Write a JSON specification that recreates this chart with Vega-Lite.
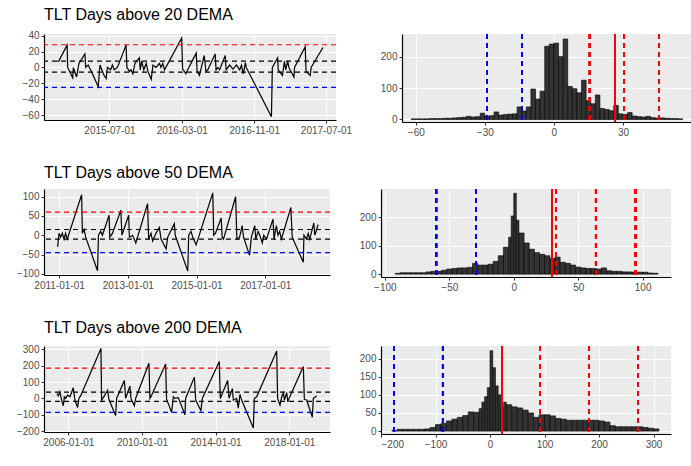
{
  "$schema": "https://vega.github.io/schema/vega-lite/v6.json",
  "background": "white",
  "padding": {"left": 16, "top": 6, "right": 4, "bottom": 2},
  "config": {
    "font": "Liberation Sans",
    "view": {"fill": "#ebebeb", "stroke": null},
    "axis": {"domainColor": "black", "domainWidth": 1.2, "tickColor": "#333", "labelColor": "#4d4d4d", "labelFontSize": 10, "gridColor": "white", "gridWidth": 1, "title": null, "tickSize": 3, "labelOverlap": false},
    "title": {"anchor": "start", "frame": "group", "fontSize": 16, "fontWeight": "normal", "color": "black", "offset": 8}
  },
  "datasets": {
    "d20": [
      {"d":"2015-01-06","v":8},{"d":"2015-01-11","v":8},{"d":"2015-02-08","v":28},{"d":"2015-02-10","v":0},{"d":"2015-02-27","v":-13},{"d":"2015-03-01","v":0},{"d":"2015-03-12","v":-12},{"d":"2015-03-20","v":5},{"d":"2015-04-09","v":17},{"d":"2015-04-12","v":0},{"d":"2015-04-20","v":3},{"d":"2015-05-01","v":-5},{"d":"2015-05-24","v":-24},{"d":"2015-05-30","v":3},{"d":"2015-06-13","v":-10},{"d":"2015-06-20","v":-14},{"d":"2015-06-24","v":0},{"d":"2015-07-05","v":-3},{"d":"2015-07-11","v":3},{"d":"2015-07-17","v":-3},{"d":"2015-07-28","v":0},{"d":"2015-08-26","v":28},{"d":"2015-08-29","v":0},{"d":"2015-09-07","v":-5},{"d":"2015-09-12","v":-3},{"d":"2015-09-18","v":-8},{"d":"2015-09-25","v":5},{"d":"2015-10-10","v":12},{"d":"2015-10-13","v":-3},{"d":"2015-10-18","v":8},{"d":"2015-10-25","v":-3},{"d":"2015-11-02","v":5},{"d":"2015-11-08","v":-5},{"d":"2015-11-19","v":-15},{"d":"2015-11-25","v":3},{"d":"2015-12-05","v":0},{"d":"2015-12-17","v":5},{"d":"2015-12-22","v":0},{"d":"2015-12-28","v":5},{"d":"2016-01-03","v":-3},{"d":"2016-03-01","v":37},{"d":"2016-03-04","v":-2},{"d":"2016-03-10","v":-5},{"d":"2016-03-15","v":-8},{"d":"2016-03-21","v":-3},{"d":"2016-04-19","v":18},{"d":"2016-04-22","v":-5},{"d":"2016-04-30","v":-10},{"d":"2016-05-16","v":15},{"d":"2016-05-22","v":-5},{"d":"2016-05-28","v":-3},{"d":"2016-06-22","v":17},{"d":"2016-06-25","v":-3},{"d":"2016-07-01","v":0},{"d":"2016-07-07","v":-3},{"d":"2016-07-26","v":15},{"d":"2016-07-29","v":-3},{"d":"2016-08-10","v":3},{"d":"2016-08-21","v":-2},{"d":"2016-09-02","v":3},{"d":"2016-09-13","v":-3},{"d":"2016-09-19","v":3},{"d":"2016-09-25","v":-8},{"d":"2016-10-02","v":6},{"d":"2016-10-05","v":0},{"d":"2016-12-29","v":-62},{"d":"2017-01-01","v":0},{"d":"2017-01-19","v":12},{"d":"2017-01-21","v":-3},{"d":"2017-02-04","v":-10},{"d":"2017-02-11","v":8},{"d":"2017-02-15","v":-3},{"d":"2017-02-22","v":8},{"d":"2017-02-26","v":0},{"d":"2017-03-15","v":-12},{"d":"2017-03-17","v":0},{"d":"2017-04-22","v":26},{"d":"2017-04-25","v":-5},{"d":"2017-05-09","v":-10},{"d":"2017-05-12","v":0},{"d":"2017-06-21","v":25}
    ],
    "d50": [
      {"d":"2010-12-17","v":-30},{"d":"2011-01-01","v":5},{"d":"2011-01-18","v":-5},{"d":"2011-02-05","v":5},{"d":"2011-02-23","v":-10},{"d":"2011-03-11","v":5},{"d":"2011-03-29","v":-10},{"d":"2011-08-29","v":105},{"d":"2011-09-06","v":5},{"d":"2011-09-24","v":15},{"d":"2011-10-11","v":-5},{"d":"2012-02-14","v":-92},{"d":"2012-02-24","v":0},{"d":"2012-03-19","v":10},{"d":"2012-04-06","v":0},{"d":"2012-06-16","v":52},{"d":"2012-06-23","v":-5},{"d":"2012-07-21","v":5},{"d":"2012-10-19","v":65},{"d":"2012-10-30","v":0},{"d":"2013-01-10","v":52},{"d":"2013-01-17","v":-5},{"d":"2013-02-21","v":0},{"d":"2013-03-27","v":-20},{"d":"2013-07-30","v":82},{"d":"2013-08-10","v":-10},{"d":"2013-09-04","v":5},{"d":"2013-09-22","v":-15},{"d":"2013-10-27","v":5},{"d":"2013-12-02","v":20},{"d":"2013-12-20","v":-10},{"d":"2014-02-12","v":-35},{"d":"2014-03-01","v":-5},{"d":"2014-05-10","v":30},{"d":"2014-05-20","v":0},{"d":"2014-09-30","v":-93},{"d":"2014-10-10","v":0},{"d":"2014-11-04","v":10},{"d":"2014-11-22","v":-5},{"d":"2014-12-28","v":-25},{"d":"2015-06-23","v":110},{"d":"2015-07-03","v":0},{"d":"2015-07-21","v":5},{"d":"2015-09-20","v":45},{"d":"2015-10-01","v":-5},{"d":"2015-10-15","v":-10},{"d":"2016-02-21","v":100},{"d":"2016-03-05","v":-10},{"d":"2016-04-03","v":-5},{"d":"2016-05-01","v":25},{"d":"2016-05-15","v":-5},{"d":"2016-07-18","v":-52},{"d":"2016-08-06","v":-5},{"d":"2016-09-11","v":25},{"d":"2016-09-22","v":-10},{"d":"2016-10-16","v":10},{"d":"2016-11-03","v":0},{"d":"2016-12-01","v":-20},{"d":"2016-12-16","v":0},{"d":"2017-01-14","v":-10},{"d":"2017-03-24","v":42},{"d":"2017-04-04","v":-10},{"d":"2017-04-29","v":25},{"d":"2017-05-16","v":0},{"d":"2017-06-03","v":10},{"d":"2017-06-21","v":-10},{"d":"2017-09-30","v":72},{"d":"2017-10-14","v":-5},{"d":"2018-02-09","v":-70},{"d":"2018-02-16","v":0},{"d":"2018-03-15","v":-10},{"d":"2018-04-02","v":5},{"d":"2018-04-19","v":-10},{"d":"2018-06-01","v":32},{"d":"2018-06-12","v":0},{"d":"2018-07-17","v":28}
    ],
    "d200": [
      {"d":"2005-05-19","v":30},{"d":"2005-06-16","v":15},{"d":"2005-07-18","v":40},{"d":"2005-08-20","v":-10},{"d":"2005-09-23","v":-45},{"d":"2005-10-13","v":10},{"d":"2005-11-08","v":0},{"d":"2005-12-18","v":20},{"d":"2006-02-03","v":10},{"d":"2006-04-08","v":65},{"d":"2006-05-11","v":-10},{"d":"2006-07-04","v":-55},{"d":"2006-07-30","v":0},{"d":"2006-09-08","v":20},{"d":"2007-10-10","v":305},{"d":"2007-10-23","v":-10},{"d":"2007-11-26","v":5},{"d":"2008-02-20","v":50},{"d":"2008-03-16","v":-5},{"d":"2008-07-27","v":-105},{"d":"2008-08-16","v":0},{"d":"2009-01-16","v":110},{"d":"2009-02-12","v":0},{"d":"2009-05-07","v":75},{"d":"2009-05-27","v":0},{"d":"2009-08-02","v":-45},{"d":"2009-08-28","v":0},{"d":"2010-05-19","v":215},{"d":"2010-06-08","v":0},{"d":"2010-06-28","v":10},{"d":"2011-04-15","v":210},{"d":"2011-05-04","v":-5},{"d":"2011-08-12","v":-85},{"d":"2011-09-15","v":10},{"d":"2011-10-17","v":0},{"d":"2011-12-23","v":5},{"d":"2012-05-03","v":-100},{"d":"2012-05-16","v":0},{"d":"2012-11-06","v":130},{"d":"2012-12-02","v":-10},{"d":"2013-03-16","v":-75},{"d":"2013-04-12","v":0},{"d":"2014-03-15","v":225},{"d":"2014-04-04","v":0},{"d":"2014-08-28","v":110},{"d":"2014-09-24","v":0},{"d":"2014-11-30","v":60},{"d":"2014-12-19","v":-10},{"d":"2015-02-24","v":0},{"d":"2015-03-27","v":-60},{"d":"2015-04-30","v":25},{"d":"2015-06-02","v":-10},{"d":"2016-01-20","v":-180},{"d":"2016-02-09","v":0},{"d":"2016-03-26","v":10},{"d":"2017-04-27","v":290},{"d":"2017-05-16","v":0},{"d":"2017-07-02","v":-40},{"d":"2017-08-05","v":10},{"d":"2017-09-07","v":35},{"d":"2017-09-27","v":-10},{"d":"2017-11-12","v":35},{"d":"2017-12-02","v":-20},{"d":"2017-12-28","v":0},{"d":"2018-10-08","v":195},{"d":"2018-10-28","v":-5},{"d":"2018-12-13","v":-10},{"d":"2019-04-04","v":-115},{"d":"2019-04-24","v":0},{"d":"2019-06-30","v":15}
    ],
    "r20": [{"v":28.5,"k":"hi"},{"v":8,"k":"sd"},{"v":-6,"k":"sd"},{"v":-25,"k":"lo"}],
    "r50": [{"v":60,"k":"hi"},{"v":15,"k":"sd"},{"v":-10,"k":"sd"},{"v":-45,"k":"lo"}],
    "r200": [{"v":185,"k":"hi"},{"v":38,"k":"sd"},{"v":-18,"k":"sd"},{"v":-85,"k":"lo"}],
    "h20": [
      {"lo":-62,"hi":-60,"n":2},{"lo":-60,"hi":-58,"n":2},{"lo":-58,"hi":-56,"n":2},{"lo":-56,"hi":-54,"n":2},{"lo":-54,"hi":-52,"n":3},{"lo":-52,"hi":-50,"n":3},{"lo":-50,"hi":-48,"n":3},{"lo":-48,"hi":-46,"n":4},{"lo":-46,"hi":-44,"n":4},{"lo":-44,"hi":-42,"n":5},{"lo":-42,"hi":-40,"n":6},{"lo":-40,"hi":-38,"n":7},{"lo":-38,"hi":-36,"n":10},{"lo":-36,"hi":-34,"n":8},{"lo":-34,"hi":-32,"n":9},{"lo":-32,"hi":-30,"n":20},{"lo":-30,"hi":-28,"n":11},{"lo":-28,"hi":-26,"n":12},{"lo":-26,"hi":-24,"n":24},{"lo":-24,"hi":-22,"n":14},{"lo":-22,"hi":-20,"n":16},{"lo":-20,"hi":-18,"n":17},{"lo":-18,"hi":-16,"n":18},{"lo":-16,"hi":-14,"n":40},{"lo":-14,"hi":-12,"n":27},{"lo":-12,"hi":-10,"n":40},{"lo":-10,"hi":-8,"n":97},{"lo":-8,"hi":-6,"n":65},{"lo":-6,"hi":-4,"n":90},{"lo":-4,"hi":-2,"n":233},{"lo":-2,"hi":0,"n":240},{"lo":0,"hi":2,"n":243},{"lo":2,"hi":4,"n":200},{"lo":4,"hi":6,"n":256},{"lo":6,"hi":8,"n":105},{"lo":8,"hi":10,"n":98},{"lo":10,"hi":12,"n":85},{"lo":12,"hi":14,"n":125},{"lo":14,"hi":16,"n":60},{"lo":16,"hi":18,"n":50},{"lo":18,"hi":20,"n":78},{"lo":20,"hi":22,"n":35},{"lo":22,"hi":24,"n":32},{"lo":24,"hi":26,"n":28},{"lo":26,"hi":28,"n":45},{"lo":28,"hi":30,"n":18},{"lo":30,"hi":32,"n":16},{"lo":32,"hi":34,"n":22},{"lo":34,"hi":36,"n":11},{"lo":36,"hi":38,"n":9},{"lo":38,"hi":40,"n":8},{"lo":40,"hi":42,"n":10},{"lo":42,"hi":44,"n":6},{"lo":44,"hi":46,"n":5},{"lo":46,"hi":48,"n":5},{"lo":48,"hi":50,"n":4},{"lo":50,"hi":52,"n":3},{"lo":52,"hi":54,"n":3},{"lo":54,"hi":56,"n":2}
    ],
    "h50": [
      {"lo":-92,"hi":-88,"n":3},{"lo":-88,"hi":-84,"n":5},{"lo":-84,"hi":-80,"n":5},{"lo":-80,"hi":-76,"n":5},{"lo":-76,"hi":-72,"n":5},{"lo":-72,"hi":-68,"n":5},{"lo":-68,"hi":-64,"n":8},{"lo":-64,"hi":-60,"n":10},{"lo":-60,"hi":-56,"n":10},{"lo":-56,"hi":-52,"n":14},{"lo":-52,"hi":-48,"n":18},{"lo":-48,"hi":-44,"n":20},{"lo":-44,"hi":-40,"n":22},{"lo":-40,"hi":-36,"n":22},{"lo":-36,"hi":-32,"n":24},{"lo":-32,"hi":-28,"n":38},{"lo":-28,"hi":-24,"n":32},{"lo":-24,"hi":-20,"n":32},{"lo":-20,"hi":-16,"n":35},{"lo":-16,"hi":-12,"n":45},{"lo":-12,"hi":-8,"n":65},{"lo":-8,"hi":-4,"n":95},{"lo":-4,"hi":-2,"n":130},{"lo":-2,"hi":0,"n":205},{"lo":0,"hi":2,"n":285},{"lo":2,"hi":4,"n":190},{"lo":4,"hi":8,"n":145},{"lo":8,"hi":12,"n":110},{"lo":12,"hi":16,"n":88},{"lo":16,"hi":20,"n":76},{"lo":20,"hi":24,"n":70},{"lo":24,"hi":28,"n":65},{"lo":28,"hi":32,"n":55},{"lo":32,"hi":36,"n":60},{"lo":36,"hi":40,"n":42},{"lo":40,"hi":44,"n":38},{"lo":44,"hi":48,"n":32},{"lo":48,"hi":52,"n":25},{"lo":52,"hi":56,"n":22},{"lo":56,"hi":60,"n":20},{"lo":60,"hi":64,"n":20},{"lo":64,"hi":68,"n":18},{"lo":68,"hi":72,"n":22},{"lo":72,"hi":76,"n":12},{"lo":76,"hi":80,"n":10},{"lo":80,"hi":84,"n":10},{"lo":84,"hi":88,"n":8},{"lo":88,"hi":92,"n":8},{"lo":92,"hi":96,"n":7},{"lo":96,"hi":100,"n":7},{"lo":100,"hi":104,"n":7},{"lo":104,"hi":108,"n":4},{"lo":108,"hi":112,"n":3}
    ],
    "h200": [
      {"lo":-180,"hi":-170,"n":2},{"lo":-170,"hi":-160,"n":5},{"lo":-160,"hi":-150,"n":5},{"lo":-150,"hi":-140,"n":5},{"lo":-140,"hi":-130,"n":5},{"lo":-130,"hi":-120,"n":5},{"lo":-120,"hi":-110,"n":6},{"lo":-110,"hi":-100,"n":10},{"lo":-100,"hi":-90,"n":18},{"lo":-90,"hi":-80,"n":21},{"lo":-80,"hi":-70,"n":28},{"lo":-70,"hi":-60,"n":33},{"lo":-60,"hi":-50,"n":38},{"lo":-50,"hi":-40,"n":43},{"lo":-40,"hi":-30,"n":53},{"lo":-30,"hi":-20,"n":52},{"lo":-20,"hi":-15,"n":62},{"lo":-15,"hi":-10,"n":80},{"lo":-10,"hi":-5,"n":95},{"lo":-5,"hi":0,"n":120},{"lo":0,"hi":5,"n":222},{"lo":5,"hi":10,"n":175},{"lo":10,"hi":15,"n":125},{"lo":15,"hi":20,"n":100},{"lo":20,"hi":25,"n":65},{"lo":25,"hi":30,"n":80},{"lo":30,"hi":40,"n":73},{"lo":40,"hi":50,"n":67},{"lo":50,"hi":60,"n":64},{"lo":60,"hi":70,"n":58},{"lo":70,"hi":80,"n":50},{"lo":80,"hi":90,"n":38},{"lo":90,"hi":100,"n":45},{"lo":100,"hi":110,"n":45},{"lo":110,"hi":120,"n":42},{"lo":120,"hi":130,"n":35},{"lo":130,"hi":140,"n":33},{"lo":140,"hi":150,"n":30},{"lo":150,"hi":160,"n":30},{"lo":160,"hi":170,"n":30},{"lo":170,"hi":180,"n":30},{"lo":180,"hi":190,"n":30},{"lo":190,"hi":200,"n":30},{"lo":200,"hi":210,"n":28},{"lo":210,"hi":220,"n":25},{"lo":220,"hi":230,"n":15},{"lo":230,"hi":240,"n":12},{"lo":240,"hi":250,"n":12},{"lo":250,"hi":260,"n":12},{"lo":260,"hi":270,"n":12},{"lo":270,"hi":280,"n":12},{"lo":280,"hi":290,"n":10},{"lo":290,"hi":300,"n":8},{"lo":300,"hi":310,"n":6}
    ]
  },
  "spacing": 28,
  "vconcat": [
    {
      "spacing": 28,
      "hconcat": [
        {
          "title": "TLT Days above 20 DEMA",
          "width": 292, "height": 86,
          "layer": [
            {
              "data": {"name": "d20"},
              "mark": {"type": "line", "color": "black", "strokeWidth": 1.2},
              "encoding": {
                "x": {"field": "d", "type": "temporal", "scale": {"domain": ["2014-11-22", "2017-08-04"]}, "axis": {"format": "%Y-%m-%d", "values": ["2015-07-01", "2016-03-01", "2016-11-01", "2017-07-01"]}},
                "y": {"field": "v", "type": "quantitative", "scale": {"domain": [-66, 42], "nice": false}, "axis": {"values": [-60, -40, -20, 0, 20, 40], "labelOverlap": false}}
              }
            },
            {
              "data": {"name": "r20"},
              "mark": {"type": "rule", "strokeDash": [5, 4], "strokeWidth": 1.2},
              "encoding": {
                "y": {"field": "v", "type": "quantitative", "axis": {"values": [-60, -40, -20, 0, 20, 40], "labelOverlap": false}},
                "color": {"field": "k", "type": "nominal", "scale": {"domain": ["hi", "sd", "lo"], "range": ["red", "black", "blue"]}, "legend": null}
              }
            },
            {"mark": {"type": "rule", "color": "black", "strokeWidth": 1.2}, "encoding": {"y": {"datum": 0, "axis": {"values": [-60, -40, -20, 0, 20, 40], "labelOverlap": false}}}}
          ]
        },
        {
          "width": 290, "height": 88,
          "data": {"name": "h20"},
          "layer": [
            {
              "mark": {"type": "bar", "color": "#333333", "stroke": "black", "strokeWidth": 0.6},
              "encoding": {
                "x": {"field": "lo", "type": "quantitative", "scale": {"domain": [-66, 60], "nice": false}, "axis": {"values": [-60, -30, 0, 30]}},
                "x2": {"field": "hi"},
                "y": {"field": "n", "type": "quantitative", "scale": {"domain": [-8, 272], "nice": false}, "axis": {"values": [0, 100, 200]}},
                "y2": {"datum": 0}
              }
            },
            {"mark": {"type": "rule", "color": "blue", "strokeDash": [5, 4], "strokeWidth": 1.2}, "encoding": {"x": {"datum": -29}}},
            {"mark": {"type": "rule", "color": "blue", "strokeDash": [5, 4], "strokeWidth": 1.2}, "encoding": {"x": {"datum": -14}}},
            {"mark": {"type": "rule", "color": "red", "strokeDash": [5, 4], "strokeWidth": 1.2}, "encoding": {"x": {"datum": 15.5}}},
            {"mark": {"type": "rule", "color": "red", "strokeWidth": 1.4}, "encoding": {"x": {"datum": 26.5}}},
            {"mark": {"type": "rule", "color": "red", "strokeDash": [5, 4], "strokeWidth": 1.2}, "encoding": {"x": {"datum": 30.5}}},
            {"mark": {"type": "rule", "color": "red", "strokeDash": [5, 4], "strokeWidth": 1.2}, "encoding": {"x": {"datum": 45.5}}}
          ]
        }
      ]
    },
    {
      "spacing": 28,
      "hconcat": [
        {
          "title": "TLT Days above 50 DEMA",
          "width": 286, "height": 86,
          "layer": [
            {
              "data": {"name": "d50"},
              "mark": {"type": "line", "color": "black", "strokeWidth": 1.2},
              "encoding": {
                "x": {"field": "d", "type": "temporal", "scale": {"domain": ["2010-07-25", "2018-11-20"]}, "axis": {"format": "%Y-%m-%d", "values": ["2011-01-01", "2013-01-01", "2015-01-01", "2017-01-01"]}},
                "y": {"field": "v", "type": "quantitative", "scale": {"domain": [-103, 120], "nice": false}, "axis": {"values": [-100, -50, 0, 50, 100], "labelOverlap": false}}
              }
            },
            {
              "data": {"name": "r50"},
              "mark": {"type": "rule", "strokeDash": [5, 4], "strokeWidth": 1.2},
              "encoding": {
                "y": {"field": "v", "type": "quantitative", "axis": {"values": [-100, -50, 0, 50, 100], "labelOverlap": false}},
                "color": {"field": "k", "type": "nominal", "scale": {"domain": ["hi", "sd", "lo"], "range": ["red", "black", "blue"]}, "legend": null}
              }
            },
            {"mark": {"type": "rule", "color": "black", "strokeWidth": 1.2}, "encoding": {"y": {"datum": 0, "axis": {"values": [-100, -50, 0, 50, 100], "labelOverlap": false}}}}
          ]
        },
        {
          "width": 290, "height": 88,
          "data": {"name": "h50"},
          "layer": [
            {
              "mark": {"type": "bar", "color": "#333333", "stroke": "black", "strokeWidth": 0.6},
              "encoding": {
                "x": {"field": "lo", "type": "quantitative", "scale": {"domain": [-103, 122], "nice": false}, "axis": {"values": [-100, -50, 0, 50, 100]}},
                "x2": {"field": "hi"},
                "y": {"field": "n", "type": "quantitative", "scale": {"domain": [-10, 300], "nice": false}, "axis": {"values": [0, 100, 200]}},
                "y2": {"datum": 0}
              }
            },
            {"mark": {"type": "rule", "color": "blue", "strokeDash": [5, 4], "strokeWidth": 1.2}, "encoding": {"x": {"datum": -60}}},
            {"mark": {"type": "rule", "color": "blue", "strokeDash": [5, 4], "strokeWidth": 1.2}, "encoding": {"x": {"datum": -29}}},
            {"mark": {"type": "rule", "color": "red", "strokeWidth": 1.4}, "encoding": {"x": {"datum": 29.5}}},
            {"mark": {"type": "rule", "color": "red", "strokeDash": [5, 4], "strokeWidth": 1.2}, "encoding": {"x": {"datum": 32.5}}},
            {"mark": {"type": "rule", "color": "red", "strokeDash": [5, 4], "strokeWidth": 1.2}, "encoding": {"x": {"datum": 63.5}}},
            {"mark": {"type": "rule", "color": "red", "strokeDash": [5, 4], "strokeWidth": 1.2}, "encoding": {"x": {"datum": 94.5}}}
          ]
        }
      ]
    },
    {
      "spacing": 28,
      "hconcat": [
        {
          "title": "TLT Days above 200 DEMA",
          "width": 286, "height": 86,
          "layer": [
            {
              "data": {"name": "d200"},
              "mark": {"type": "line", "color": "black", "strokeWidth": 1.2},
              "encoding": {
                "x": {"field": "d", "type": "temporal", "scale": {"domain": ["2004-09-05", "2020-03-20"]}, "axis": {"format": "%Y-%m-%d", "values": ["2006-01-01", "2010-01-01", "2014-01-01", "2018-01-01"]}},
                "y": {"field": "v", "type": "quantitative", "scale": {"domain": [-205, 320], "nice": false}, "axis": {"values": [-200, -100, 0, 100, 200, 300], "labelOverlap": false}}
              }
            },
            {
              "data": {"name": "r200"},
              "mark": {"type": "rule", "strokeDash": [5, 4], "strokeWidth": 1.2},
              "encoding": {
                "y": {"field": "v", "type": "quantitative", "axis": {"values": [-200, -100, 0, 100, 200, 300], "labelOverlap": false}},
                "color": {"field": "k", "type": "nominal", "scale": {"domain": ["hi", "sd", "lo"], "range": ["red", "black", "blue"]}, "legend": null}
              }
            },
            {"mark": {"type": "rule", "color": "black", "strokeWidth": 1.2}, "encoding": {"y": {"datum": 0, "axis": {"values": [-200, -100, 0, 100, 200, 300], "labelOverlap": false}}}}
          ]
        },
        {
          "width": 290, "height": 88,
          "data": {"name": "h200"},
          "layer": [
            {
              "mark": {"type": "bar", "color": "#333333", "stroke": "black", "strokeWidth": 0.6},
              "encoding": {
                "x": {"field": "lo", "type": "quantitative", "scale": {"domain": [-200, 332], "nice": false}, "axis": {"values": [-200, -100, 0, 100, 200, 300]}},
                "x2": {"field": "hi"},
                "y": {"field": "n", "type": "quantitative", "scale": {"domain": [-8, 235], "nice": false}, "axis": {"values": [0, 50, 100, 150, 200], "labelOverlap": false}},
                "y2": {"datum": 0}
              }
            },
            {"mark": {"type": "rule", "color": "blue", "strokeDash": [5, 4], "strokeWidth": 1.2}, "encoding": {"x": {"datum": -176}}},
            {"mark": {"type": "rule", "color": "blue", "strokeDash": [5, 4], "strokeWidth": 1.2}, "encoding": {"x": {"datum": -87}}},
            {"mark": {"type": "rule", "color": "red", "strokeWidth": 1.4}, "encoding": {"x": {"datum": 22}}},
            {"mark": {"type": "rule", "color": "red", "strokeDash": [5, 4], "strokeWidth": 1.2}, "encoding": {"x": {"datum": 91}}},
            {"mark": {"type": "rule", "color": "red", "strokeDash": [5, 4], "strokeWidth": 1.2}, "encoding": {"x": {"datum": 181}}},
            {"mark": {"type": "rule", "color": "red", "strokeDash": [5, 4], "strokeWidth": 1.2}, "encoding": {"x": {"datum": 271}}}
          ]
        }
      ]
    }
  ]
}
